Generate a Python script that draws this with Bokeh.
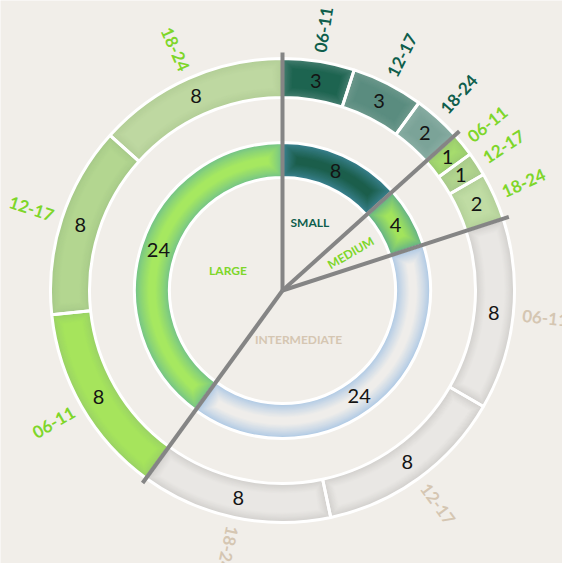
import numpy as np
from bokeh.plotting import figure
from bokeh.models import ColumnDataSource
from bokeh.core.properties import value
from bokeh.embed import file_html
from bokeh.resources import INLINE

# ---------------- data ----------------
groups = ["SMALL", "MEDIUM", "INTERMEDIATE", "LARGE"]
group_values = [8, 4, 24, 24]
sub_labels = ["06-11", "12-17", "18-24"]
small_values = [3, 3, 2]
medium_values = [1, 1, 2]
intermediate_values = [8, 8, 8]
large_values = [8, 8, 8]
sub_values = [small_values, medium_values, intermediate_values, large_values]

# ---------------- style ----------------
BG = "#f1eee9"
group_text_colors = ["#0f5e4c", "#7ed62a", "#d5c6b2", "#7ed62a"]
inner_center = ["#1b5e4b", "#a2e45c", "#efedea", "#a6e860"]
inner_edge = ["#3c8494", "#5fae8a", "#a9c6e4", "#70c08c"]
outer_center = [["#1d6450", "#5a8c7f", "#7ba398"],
                ["#a6dc6e", "#b2d58e", "#c0dca4"],
                ["#e9e7e4", "#e9e7e4", "#e9e7e4"],
                ["#a6e45c", "#b3d690", "#bed8a1"]]
outer_edge = [["#4b8174", "#6f9a8e", "#8aaea4"],
              ["#98c870", "#a6c88a", "#b2cf98"],
              ["#cfcdca", "#cfcdca", "#cfcdca"],
              ["#98cf68", "#a5c888", "#b1cc96"]]
R_IN0, R_IN1 = 113, 148
R_OUT0, R_OUT1 = 193, 232
R_SUBLABEL = 264
R_LINE = 238
# inner category label placement: (radius, angle from top in deg, rotation)
group_label_place = [(73, 22, 0), (78, 61, 30), (52, 162, 0), (58, 290, 0)]

W, H = 562, 563
CX, CY = 282, 290

p = figure(width=W, height=H, x_range=(-CX, W - CX), y_range=(-(H - CY), CY),
           output_backend="svg", toolbar_location=None, min_border=0,
           x_axis_location=None, y_axis_location=None)
p.grid.visible = False
p.outline_line_color = None
p.background_fill_color = BG
p.border_fill_color = BG


def hex2rgb(h):
    h = h.lstrip("#")
    return np.array([int(h[i:i + 2], 16) for i in (0, 2, 4)], dtype=float)


def mix(c1, c2, t):
    a, b = hex2rgb(c1), hex2rgb(c2)
    c = a + (b - a) * t
    return "#%02x%02x%02x" % tuple(int(round(v)) for v in c)


def cw_to_bokeh(a0_deg, a1_deg):
    # clockwise-from-top degrees -> bokeh anticlock radians
    return np.radians(90 - a1_deg), np.radians(90 - a0_deg)


layers = dict(r0=[], r1=[], s=[], e=[], c=[])
outlines = dict(r0=[], r1=[], s=[], e=[])


def add_segment(r0, r1, a0, a1, edge, center, glow, n=14):
    s, e = cw_to_bokeh(a0, a1)
    rm = (r0 + r1) / 2
    for k in range(n):
        t = k / (n - 1)
        d = glow * t
        rr0, rr1 = r0 + d, r1 - d
        da = d / rm
        ss, ee = s + da, e - da
        if rr1 <= rr0 + 0.5 or ee <= ss:
            break
        layers["r0"].append(rr0)
        layers["r1"].append(rr1)
        layers["s"].append(ss)
        layers["e"].append(ee)
        layers["c"].append(mix(edge, center, t ** 0.8))
    outlines["r0"].append(r0)
    outlines["r1"].append(r1)
    outlines["s"].append(s)
    outlines["e"].append(e)


total = sum(group_values)
group_bounds = np.concatenate([[0], np.cumsum(group_values)]) / total * 360.0

val_x, val_y, val_t = [], [], []
sub_x, sub_y, sub_t, sub_a, sub_c = [], [], [], [], []

for gi, g in enumerate(groups):
    a0, a1 = group_bounds[gi], group_bounds[gi + 1]
    add_segment(R_IN0, R_IN1, a0, a1, inner_edge[gi], inner_center[gi], 14)
    mid = np.radians(90 - (a0 + a1) / 2)
    rm = (R_IN0 + R_IN1) / 2
    val_x.append(rm * np.cos(mid))
    val_y.append(rm * np.sin(mid))
    val_t.append(str(group_values[gi]))

    vals = sub_values[gi]
    cum = a0
    for si, v in enumerate(vals):
        b0 = cum
        b1 = cum + v / total * 360.0
        cum = b1
        add_segment(R_OUT0, R_OUT1, b0, b1, outer_edge[gi][si], outer_center[gi][si], 10)
        mdeg = (b0 + b1) / 2
        m = np.radians(90 - mdeg)
        rmo = (R_OUT0 + R_OUT1) / 2
        val_x.append(rmo * np.cos(m))
        val_y.append(rmo * np.sin(m))
        val_t.append(str(v))
        sub_x.append(R_SUBLABEL * np.cos(m))
        sub_y.append(R_SUBLABEL * np.sin(m))
        sub_t.append(sub_labels[si])
        rot = 90 - mdeg
        if mdeg > 200:
            rot += 180
        sub_a.append(np.radians(rot))
        sub_c.append(group_text_colors[gi])

src_layers = ColumnDataSource(layers)
p.annular_wedge(x=0, y=0, inner_radius="r0", outer_radius="r1", start_angle="s",
                end_angle="e", fill_color="c", line_color=None, source=src_layers)
src_out = ColumnDataSource(outlines)
p.annular_wedge(x=0, y=0, inner_radius="r0", outer_radius="r1", start_angle="s",
                end_angle="e", fill_color=None, line_color="white", line_width=3,
                source=src_out)

# grey dividing lines at group boundaries
bth = np.radians(90 - group_bounds[:-1])
p.segment(x0=0, y0=0, x1=R_LINE * np.cos(bth), y1=R_LINE * np.sin(bth),
          line_color="#858585", line_width=4)

# value labels
p.text(x=val_x, y=val_y, text=val_t, text_align="center", text_baseline="middle",
       text_font=value("Lato"), text_font_size="20px", text_color="#141414")

# sub labels
p.text(x=sub_x, y=sub_y, text=sub_t, angle=sub_a, text_align="center",
       text_baseline="middle", text_font=value("Lato"), text_font_size="17px",
       text_font_style="bold", text_color=sub_c)

# group labels in the hole
gx, gy, ga = [], [], []
for r, ang, rot in group_label_place:
    t = np.radians(90 - ang)
    gx.append(r * np.cos(t))
    gy.append(r * np.sin(t))
    ga.append(np.radians(rot))
p.text(x=gx, y=gy, text=groups, angle=ga, text_align="center", text_baseline="middle",
       text_font=value("Lato"), text_font_size="12px", text_font_style="bold",
       text_color=group_text_colors)

open("out.html", "w").write(file_html(p, INLINE))
